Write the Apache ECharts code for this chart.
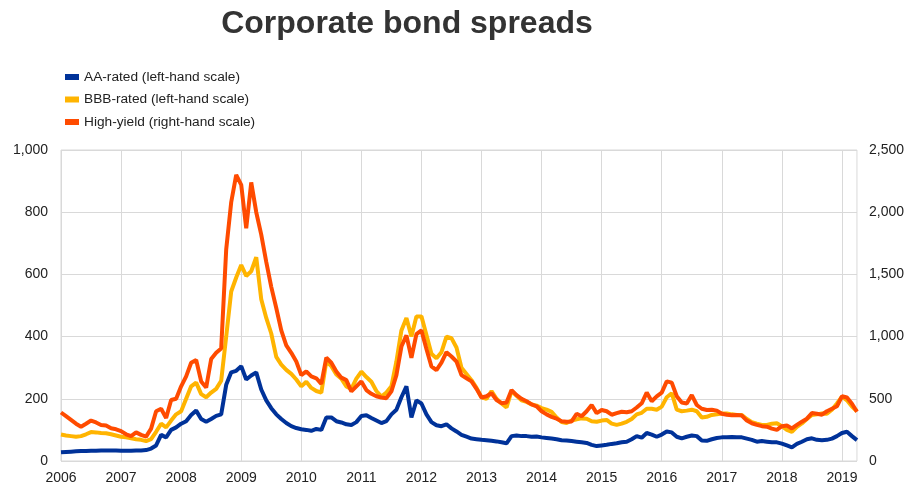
<!DOCTYPE html>
<html>
<head>
<meta charset="utf-8">
<script src="https://cdn.jsdelivr.net/npm/echarts@6/dist/echarts.min.js"></script>
<style>html,body{margin:0;padding:0;background:#fff}#c{width:907px;height:487px}</style>
</head>
<body>
<div id="c"></div>
<script>
// Monthly observations, January 2006 to April 2019
const startYear = 2006;
const aaRated = [
  28,29,30,31,32,32,33,33,34,34,34,34,
  33,33,33,34,34,35,40,50,84,76,100,108,
  120,128,148,162,135,126,135,145,150,245,285,290,
  305,262,275,285,230,195,170,150,135,122,112,106,
  102,100,97,103,100,140,140,128,124,118,116,125,
  145,147,138,130,122,128,150,165,205,240,140,195,
  185,150,125,115,112,118,105,95,84,78,72,70,
  68,67,65,63,60,57,80,82,80,80,78,79,
  76,74,72,70,67,66,64,62,60,58,52,48,
  50,52,55,57,60,62,70,80,75,90,85,78,
  85,95,92,78,73,78,82,80,66,65,70,74,
  76,76,77,76,76,72,68,62,64,62,60,60,
  56,50,44,55,62,70,73,68,67,68,72,80,
  90,94,80,67
];
const bbbRated = [
  85,82,80,78,80,86,93,92,90,89,86,82,
  78,76,73,70,68,64,70,94,120,108,130,150,
  160,200,240,252,215,205,220,232,258,400,545,590,
  630,595,610,655,520,460,410,335,310,293,280,262,
  240,255,235,225,220,320,305,278,265,240,232,265,
  287,270,255,225,207,220,240,320,420,460,400,465,
  465,405,345,330,350,400,395,365,300,280,260,235,
  205,200,225,200,185,172,225,210,195,190,182,178,
  170,165,158,140,125,122,130,134,137,136,128,126,
  130,132,120,116,120,126,135,150,155,168,168,165,
  175,205,218,165,160,162,165,160,140,142,148,150,
  153,153,150,148,148,135,125,120,116,116,120,121,
  112,100,94,110,121,135,148,150,153,152,165,185,
  207,195,175,160
];
const highYield = [
  390,360,330,300,276,300,325,310,290,285,263,255,
  240,215,200,230,210,196,260,400,420,345,490,500,
  600,680,790,812,640,590,820,870,905,1700,2080,2300,
  2220,1870,2240,2000,1820,1600,1400,1230,1050,930,870,800,
  690,720,680,665,620,830,790,720,670,650,560,600,
  640,570,540,520,510,505,560,690,920,1010,830,1020,
  1050,900,760,730,790,875,840,800,690,665,640,580,
  510,520,545,490,465,470,570,530,500,480,455,440,
  400,375,355,340,320,315,318,380,360,400,450,385,
  410,400,372,385,396,392,400,430,464,550,480,520,
  550,640,630,520,470,462,530,450,420,410,412,405,
  380,372,368,370,365,325,303,290,280,276,260,250,
  280,285,262,290,316,340,385,380,372,400,420,440,
  520,510,460,396
];
const months = aaRated.map((_, i) => (startYear + Math.floor(i / 12)) + '-' + String(i % 12 + 1).padStart(2, '0'));
const leftTicks = [0, 200, 400, 600, 800, 1000];
const rightTicks = [0, 500, 1000, 1500, 2000, 2500];

const fmt = v => v.toLocaleString('en-US');
const chart = echarts.init(document.getElementById('c'));
const font = 'Liberation Sans, Arial, sans-serif';
chart.setOption({
  animation: false,
  textStyle: { fontFamily: font },
  title: {
    text: 'Corporate bond spreads', left: 402, top: 3, textAlign: 'center',
    textStyle: { fontFamily: font, fontSize: 32, fontWeight: 'bold', color: '#333' }
  },
  legend: {
    orient: 'vertical', left: 60, top: 65, itemWidth: 14, itemHeight: 6, itemGap: 8.5,
    icon: 'rect',
    textStyle: { fontFamily: font, fontSize: 13.7, color: '#222' },
    data: ['AA-rated (left-hand scale)', 'BBB-rated (left-hand scale)', 'High-yield (right-hand scale)']
  },
  grid: { left: 61, right: 49, top: 150, bottom: 26, show: true, borderColor: '#d9d9d9', borderWidth: 1 },
  xAxis: {
    type: 'category', data: months, boundaryGap: false,
    axisLine: { show: false }, axisTick: { show: false },
    axisLabel: { interval: i => i % 12 === 0, formatter: v => v.slice(0, 4), color: '#222', fontSize: 14, fontFamily: font, margin: 10 },
    splitLine: { show: true, interval: i => i % 12 === 0, lineStyle: { color: '#d9d9d9', width: 1 } }
  },
  yAxis: [
    { type: 'value', min: leftTicks[0], max: leftTicks[leftTicks.length - 1], interval: leftTicks[1] - leftTicks[0],
      axisLine: { show: false }, axisTick: { show: false },
      axisLabel: { formatter: fmt, color: '#222', fontSize: 14, fontFamily: font, margin: 13 },
      splitLine: { lineStyle: { color: '#d9d9d9', width: 1 } } },
    { type: 'value', min: rightTicks[0], max: rightTicks[rightTicks.length - 1], interval: rightTicks[1] - rightTicks[0],
      axisLine: { show: false }, axisTick: { show: false },
      axisLabel: { formatter: fmt, color: '#222', fontSize: 14, fontFamily: font, margin: 12 },
      splitLine: { show: false } }
  ],
  series: [
    { name: 'AA-rated (left-hand scale)', type: 'line', data: aaRated, yAxisIndex: 0, symbol: 'none',
      lineStyle: { color: '#003299', width: 4 }, itemStyle: { color: '#003299' } },
    { name: 'BBB-rated (left-hand scale)', type: 'line', data: bbbRated, yAxisIndex: 0, symbol: 'none',
      lineStyle: { color: '#FFB400', width: 4 }, itemStyle: { color: '#FFB400' } },
    { name: 'High-yield (right-hand scale)', type: 'line', data: highYield, yAxisIndex: 1, symbol: 'none',
      lineStyle: { color: '#FF4B00', width: 4 }, itemStyle: { color: '#FF4B00' } }
  ]
});
</script>
</body>
</html>
